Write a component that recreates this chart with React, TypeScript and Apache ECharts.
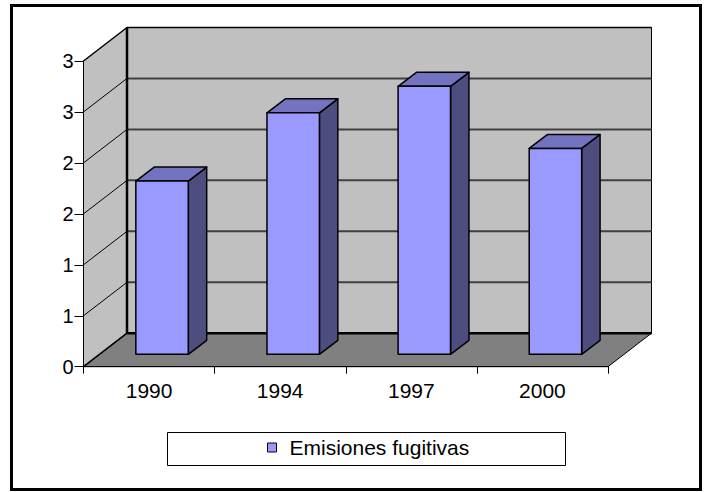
import React, { useEffect, useRef } from "react";
import * as echarts from "echarts";

// ---- data ----
const CATEGORIES = ["1990", "1994", "1997", "2000"];
const EMISIONES = [1.7, 2.37, 2.63, 2.02];
const SERIES_NAME = "Emisiones fugitivas";
const Y_MIN = 0;
const Y_MAX = 3;
const Y_STEP = 0.5;

// ---- layout / style ----
const FONT = "'Liberation Sans', Arial, sans-serif";
const DEPTH = { dx: 43.5, dy: -33.5 };
const BAR_FRONT = { dx: 13, dy: -12.4 };
const BAR_DEPTH = { dx: 18.4, dy: -14 };
const BAR_WIDTH_RATIO = 0.4;
const WALL_COLOR = "#c0c0c0";
const FLOOR_COLOR = "#808080";
const BAR_FRONT_COLOR = "#9999ff";
const BAR_SIDE_COLOR = "#4d4d80";
const BAR_TOP_COLOR = "#7373bf";

function renderWalls(params: any, api: any) {
  const cs = params.coordSys;
  const x0 = cs.x;
  const x1 = cs.x + cs.width;
  const y0 = api.coord([0, Y_MIN])[1];
  const yTop = api.coord([0, Y_MAX])[1];
  const { dx, dy } = DEPTH;
  const children: any[] = [];
  children.push({
    type: "polygon",
    shape: { points: [[x0, y0], [x0, yTop], [x0 + dx, yTop + dy], [x0 + dx, y0 + dy]] },
    style: { fill: WALL_COLOR, stroke: null },
  });
  children.push({
    type: "rect",
    shape: { x: x0 + dx, y: yTop + dy, width: x1 - x0, height: y0 - yTop },
    style: { fill: WALL_COLOR, stroke: "#000", lineWidth: 1 },
  });
  children.push({
    type: "polygon",
    shape: { points: [[x0, y0], [x1, y0], [x1 + dx, y0 + dy], [x0 + dx, y0 + dy]] },
    style: { fill: FLOOR_COLOR, stroke: "#000", lineWidth: 1 },
  });
  for (let v = Y_MIN + Y_STEP; v <= Y_MAX + 1e-9; v += Y_STEP) {
    const fy = api.coord([0, v])[1];
    const isTop = v >= Y_MAX - 1e-9;
    children.push({
      type: "line",
      shape: { x1: x0, y1: fy, x2: x0 + dx, y2: fy + dy },
      style: { stroke: "#000", lineWidth: isTop ? 1.5 : 1 },
    });
    children.push({
      type: "line",
      shape: { x1: x0 + dx, y1: fy + dy, x2: x1 + dx, y2: fy + dy },
      style: isTop ? { stroke: "#000", lineWidth: 1.5 } : { stroke: "#404040", lineWidth: 2 },
    });
  }
  children.push({
    type: "line",
    shape: { x1: x0 + dx, y1: yTop + dy, x2: x0 + dx, y2: y0 + dy },
    style: { stroke: "#000", lineWidth: 2.5 },
  });
  children.push({
    type: "line",
    shape: { x1: x0 + dx, y1: y0 + dy, x2: x1 + dx, y2: y0 + dy },
    style: { stroke: "#000", lineWidth: 2.5 },
  });
  children.push({
    type: "line",
    shape: { x1: x0, y1: y0, x2: x0 + dx, y2: y0 + dy },
    style: { stroke: "#000", lineWidth: 1.5 },
  });
  return { type: "group", children };
}

function renderBar(params: any, api: any) {
  const idx = api.value(0);
  const v = api.value(1);
  const p = api.coord([idx, v]);
  const y0 = api.coord([idx, 0])[1];
  const hw = (api.size([1, 0])[0] * BAR_WIDTH_RATIO) / 2;
  const l = p[0] - hw + BAR_FRONT.dx;
  const r = p[0] + hw + BAR_FRONT.dx;
  const t = p[1] + BAR_FRONT.dy;
  const b = y0 + BAR_FRONT.dy;
  const { dx, dy } = BAR_DEPTH;
  const line = { stroke: "#000", lineWidth: 1.5, lineJoin: "round" };
  return {
    type: "group",
    children: [
      {
        type: "polygon",
        shape: { points: [[r, t], [r, b], [r + dx, b + dy], [r + dx, t + dy]] },
        style: { fill: BAR_SIDE_COLOR, ...line },
      },
      {
        type: "polygon",
        shape: { points: [[l, t], [r, t], [r + dx, t + dy], [l + dx, t + dy]] },
        style: { fill: BAR_TOP_COLOR, ...line },
      },
      {
        type: "rect",
        shape: { x: l, y: t, width: r - l, height: b - t },
        style: { fill: BAR_FRONT_COLOR, ...line },
      },
    ],
  };
}

export default function App() {
  const ref = useRef<HTMLDivElement>(null);
  useEffect(() => {
    if (!ref.current) return;
    const chart = echarts.init(ref.current, null, { renderer: "svg" });
    chart.setOption({
      animation: false,
      backgroundColor: "#ffffff",
      grid: { left: 83.5, right: 97, top: 61, bottom: 125.3, containLabel: false },
      xAxis: {
        type: "category",
        data: CATEGORIES,
        boundaryGap: true,
        z: 3,
        axisLine: { show: true, lineStyle: { color: "#000", width: 1 } },
        axisTick: { show: true, length: 7, alignWithLabel: false, lineStyle: { color: "#000" } },
        axisLabel: { color: "#000", fontSize: 21, fontFamily: FONT, margin: 13 },
        splitLine: { show: false },
      },
      yAxis: {
        type: "value",
        min: Y_MIN,
        max: Y_MAX,
        interval: Y_STEP,
        z: 3,
        axisLine: { show: true, lineStyle: { color: "#000", width: 1 } },
        axisTick: { show: true, length: 9, lineStyle: { color: "#000" } },
        axisLabel: {
          color: "#000",
          fontSize: 20,
          fontFamily: FONT,
          margin: 10,
          formatter: (v: number) => String(Math.round(v)),
        },
        splitLine: { show: false },
      },
      legend: {
        show: true,
        left: 267,
        top: 437,
        padding: 0,
        itemWidth: 9,
        itemHeight: 9,
        data: [
          {
            name: SERIES_NAME,
            icon: "rect",
            itemStyle: { color: BAR_FRONT_COLOR, borderColor: "#000", borderWidth: 1 },
          },
        ],
        textStyle: { color: "#000", fontSize: 21, fontFamily: FONT, padding: [0, 0, 0, 8] },
      },
      graphic: [
        {
          type: "rect",
          z: 0,
          shape: { x: 11.5, y: 5.5, width: 689, height: 484 },
          style: { fill: null, stroke: "#000", lineWidth: 3 },
        },
        {
          type: "rect",
          z: 0,
          shape: { x: 167.5, y: 432.5, width: 398, height: 33 },
          style: { fill: "#fff", stroke: "#000", lineWidth: 1 },
        },
      ],
      series: [
        {
          type: "custom",
          name: "walls",
          z: 1,
          silent: true,
          renderItem: renderWalls,
          data: [[0, 0]],
          encode: { x: 0, y: 1 },
        },
        {
          type: "custom",
          name: SERIES_NAME,
          z: 2,
          itemStyle: { color: BAR_FRONT_COLOR },
          renderItem: renderBar,
          data: EMISIONES.map((v, i) => [i, v]),
          encode: { x: 0, y: 1 },
        },
      ],
    });
    return () => chart.dispose();
  }, []);
  return (
    <div
      ref={ref}
      style={{ position: "fixed", left: 0, top: 0, width: 705, height: 492, background: "#fff" }}
    />
  );
}
